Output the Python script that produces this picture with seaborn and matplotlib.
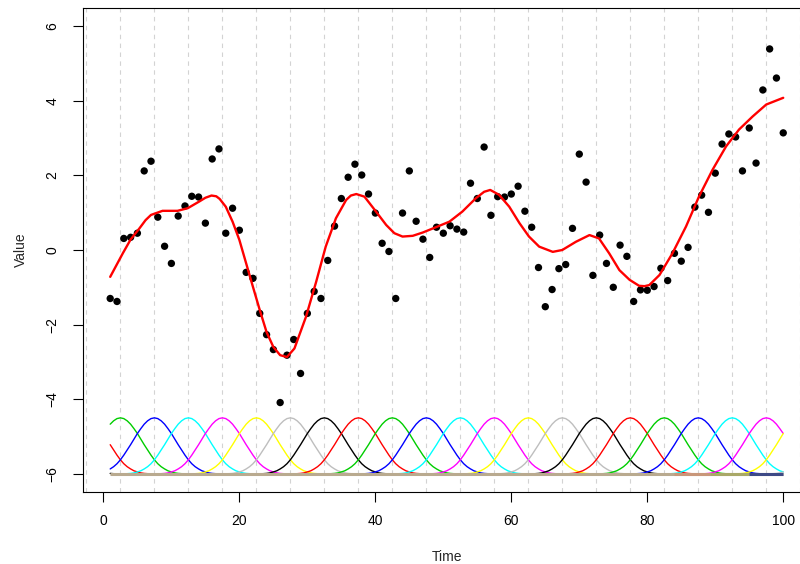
import numpy as np
import pandas as pd
import matplotlib
matplotlib.use("Agg")
import matplotlib.pyplot as plt
import seaborn as sns

sns.set_style("white")
plt.rcParams['font.family'] = ['Liberation Sans', 'DejaVu Sans']

# Observed series (x = 1..100)
time = np.arange(1, 101)
value = [
    -1.30, -1.38, 0.31, 0.34, 0.45, 2.12, 2.38, 0.88, 0.10, -0.36,
    0.91, 1.18, 1.44, 1.42, 0.72, 2.44, 2.71, 0.45, 1.12, 0.53,
    -0.60, -0.76, -1.70, -2.27, -2.67, -4.09, -2.82, -2.40, -3.31, -1.70,
    -1.11, -1.30, -0.28, 0.64, 1.38, 1.95, 2.30, 2.01, 1.50, 0.99,
    0.18, -0.04, -1.30, 0.99, 2.12, 0.77, 0.29, -0.20, 0.61, 0.45,
    0.65, 0.56, 0.48, 1.79, 1.38, 2.76, 0.93, 1.43, 1.42, 1.50,
    1.71, 1.04, 0.61, -0.47, -1.52, -1.06, -0.50, -0.39, 0.58, 2.57,
    1.82, -0.68, 0.40, -0.36, -1.00, 0.13, -0.17, -1.38, -1.07, -1.08,
    -0.98, -0.49, -0.82, -0.09, -0.30, 0.07, 1.15, 1.47, 1.01, 2.06,
    2.84, 3.11, 3.03, 2.12, 3.27, 2.33, 4.29, 5.39, 4.61, 3.14,
]

# Fitted curve
fit_x = [1, 2.85, 4, 5.3, 6.2, 7, 8.7, 10.9, 12.4, 14.1, 15.0, 15.9, 16.6,
         17.1, 18, 19, 20, 21, 22, 23, 24, 25, 26, 27, 28.1, 29.8, 31.3,
         32.7, 34.2, 35.7, 36.4, 37.2, 38.4, 40.1, 41.6, 42.8, 44, 45.5, 47,
         48.9, 50.9, 52.8, 54.8, 56.0, 56.9, 58.2, 59.7, 61.2, 62.6, 64.1,
         66.1, 67.5, 69.5, 71.5, 72.9, 74.4, 75.9, 77.4, 78.8, 79.6, 80.3,
         81.8, 83.7, 85.7, 87.6, 89.6, 91.6, 93.5, 95.5, 97.5, 100]
fit_y = [-0.72, -0.09, 0.28, 0.58, 0.80, 0.94, 1.05, 1.05, 1.12, 1.30, 1.40,
         1.46, 1.44, 1.37, 1.16, 0.76, 0.27, -0.36, -0.99, -1.61, -2.20,
         -2.60, -2.82, -2.87, -2.64, -1.79, -0.85, 0.09, 0.85, 1.34, 1.46,
         1.50, 1.43, 1.03, 0.67, 0.45, 0.36, 0.38, 0.47, 0.61, 0.76, 1.03,
         1.39, 1.56, 1.61, 1.48, 1.16, 0.72, 0.36, 0.09, -0.05, 0.00, 0.22,
         0.40, 0.31, -0.09, -0.54, -0.80, -0.96, -0.97, -0.94, -0.67, -0.09,
         0.63, 1.43, 2.15, 2.78, 3.23, 3.58, 3.90, 4.08]

# Basis bumps: centres, and the bump height read at offsets 0, 0.5, ..., 10
basis_centers = [-7.5 + 5 * k for k in range(24)]
bump_half = [1.5, 1.48, 1.42, 1.33, 1.21, 1.08, 0.93, 0.78, 0.64, 0.50, 0.375,
             0.27, 0.19, 0.13, 0.08, 0.05, 0.024, 0.01, 0.003, 0.0, 0.0]
basis_base = -6
basis_palette = ["black", "red", "#00CD00", "blue", "cyan", "magenta",
                 "yellow", "#BEBEBE"]

grid_x = [-2.5 + 5 * k for k in range(22)]

# build long table for the basis curves
offsets = np.arange(-10, 10.5, 0.5)
profile = np.array(bump_half[::-1] + bump_half[1:])
rows = []
for k, c in enumerate(basis_centers):
    for off, h in zip(offsets, profile):
        xx = c + off
        if 1 <= xx <= 100:
            rows.append((k, xx, basis_base + h))
basis_df = pd.DataFrame(rows, columns=["basis", "x", "y"])
pal = {k: basis_palette[k % 8] for k in range(len(basis_centers))}

obs_df = pd.DataFrame({"Time": time, "Value": value})
fit_df = pd.DataFrame({"Time": fit_x, "Value": fit_y})

fig = plt.figure(figsize=(8, 5.64), dpi=100)
ax = fig.add_axes([0.1041, 0.1282, 0.9086, 0.8571])

for gx in grid_x:
    ax.axvline(gx, color="#D3D3D3", lw=0.8, ls=(0, (4, 4)), zorder=0)

sns.lineplot(data=basis_df, x="x", y="y", hue="basis", palette=pal,
             estimator=None, sort=False, legend=False, lw=1.0, ax=ax, zorder=2)

# baseline where all basis curves overlap
ax.plot([1, 100], [basis_base, basis_base], color="#B9AA8F", lw=2.2, zorder=2.5,
        solid_capstyle="butt")
for x0, x1, col in [(84.0, 89.2, "#C9977A"), (89.2, 95.0, "#A9A867"),
                    (95.0, 100, "#3E4A86")]:
    ax.plot([x0, x1], [basis_base, basis_base], color=col, lw=2.2, zorder=2.5,
            solid_capstyle="butt")

sns.scatterplot(data=obs_df, x="Time", y="Value", color="black", s=28,
                edgecolor="none", ax=ax, zorder=3)
sns.lineplot(data=fit_df, x="Time", y="Value", color="red", lw=1.7,
             estimator=None, sort=False, ax=ax, zorder=4,
             solid_joinstyle="round")

ax.set_xlim(-2.96, 103.96)
ax.set_ylim(-6.48, 6.48)
ax.set_xticks([0, 20, 40, 60, 80, 100])
ax.set_yticks([-6, -4, -2, 0, 2, 4, 6])
ax.tick_params(axis="both", direction="out", length=7, width=0.8,
               colors="black", labelsize=10, bottom=True, left=True)
ax.tick_params(axis="x", pad=9)
ax.tick_params(axis="y", pad=10)
for lab in ax.get_yticklabels():
    lab.set_rotation(90)
    lab.set_va("center")

for sp in ax.spines.values():
    sp.set_color("black")
    sp.set_linewidth(0.8)

ax.set_xlabel("Time", fontsize=10, labelpad=16)
ax.set_ylabel("Value", fontsize=10, labelpad=13)

fig.savefig("out.png", dpi=100)
